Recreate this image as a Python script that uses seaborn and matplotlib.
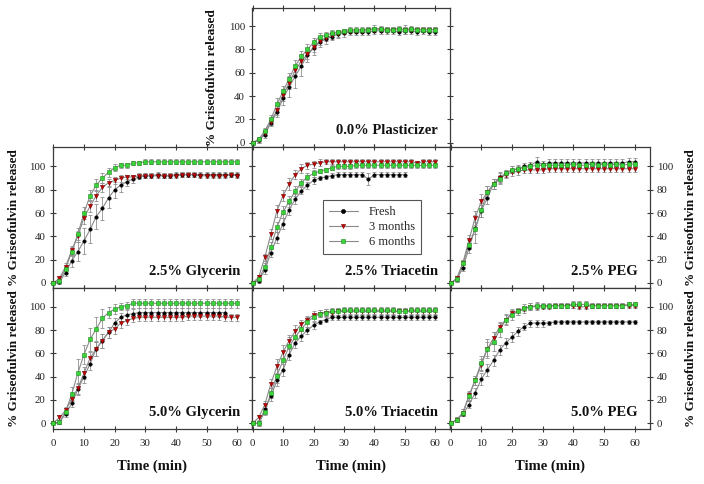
import numpy as np
import pandas as pd
import matplotlib
matplotlib.use("Agg")
import matplotlib.pyplot as plt
from matplotlib.lines import Line2D
import seaborn as sns

sns.set_style("ticks")
plt.rcParams['font.family'] = ['Liberation Serif', 'DejaVu Serif']

time_min = list(range(0, 61, 2))
series_names = ["Fresh", "3 months", "6 months"]
nan = float("nan")

# ---- 0.0% Plasticizer ----
plast0_fresh = [0, 2, 7, 17, 26, 38, 48, 57, 66, 75, 81, 86, 89, 91, 93, 94, 95, 95, 95, 95, 96, 96, 96, 96, 95, 96, 96, 95, 96, 95, 95]
plast0_3m = [0, 2, 8, 18, 28, 41, 51, 62, 70, 76, 82, 87, 90, 92, 94, 95, 96, 96, 96, 97, 97, 97, 97, 97, 97, 97, 97, 97, 97, 97, 97]
plast0_6m = [0, 3, 10, 20, 33, 44, 55, 66, 74, 80, 86, 91, 92, 94, 95, 96, 97, 97, 97, 97, 98, 98, 97, 97, 98, 97, 98, 97, 97, 97, 97]
plast0_fresh_err = [0, 2, 3, 3, 4, 6, 9, 10, 9, 6, 6, 4, 4, 3, 3, 3, 3, 3, 3, 3, 3, 3, 3, 3, 3, 3, 3, 3, 3, 3, 3]
plast0_3m_err = [0, 2, 2, 3, 4, 5, 5, 5, 5, 4, 4, 3, 3, 3, 3, 2, 2, 2, 2, 2, 2, 2, 2, 2, 2, 2, 2, 2, 2, 2, 2]
plast0_6m_err = [0, 2, 3, 4, 5, 5, 5, 5, 5, 5, 4, 3, 3, 3, 2, 2, 2, 2, 2, 2, 3, 2, 2, 2, 2, 4, 2, 2, 2, 2, 2]

# ---- 2.5% Glycerin ----
gly25_fresh = [0, 1, 9, 19, 27, 36, 46, 57, 64, 73, 80, 84, 87, 89, 91, 92, 92, 93, 92, 92, 93, 93, 93, 93, 93, 93, 93, 93, 93, 93, 93]
gly25_3m = [0, 4, 14, 28, 40, 56, 66, 75, 82, 86, 88, 90, 91, 91, 92, 92, 92, 92, 92, 92, 92, 93, 93, 93, 92, 92, 92, 92, 92, 93, 92]
gly25_6m = [0, 2, 12, 27, 42, 60, 75, 84, 90, 95, 99, 101, 101, 103, 103, 104, 104, 104, 104, 104, 104, 104, 104, 104, 104, 104, 104, 104, 104, 104, 104]
gly25_fresh_err = [0, 2, 3, 5, 8, 11, 12, 11, 10, 9, 7, 6, 4, 3, 2, 2, 2, 2, 2, 2, 2, 2, 2, 2, 2, 2, 2, 2, 2, 2, 2]
gly25_3m_err = [0, 2, 3, 4, 5, 5, 5, 5, 4, 3, 3, 3, 2, 2, 2, 2, 2, 2, 2, 2, 2, 2, 2, 2, 2, 2, 2, 2, 2, 2, 2]
gly25_6m_err = [0, 2, 3, 4, 5, 5, 5, 5, 4, 4, 3, 2, 2, 2, 2, 2, 2, 2, 2, 2, 2, 2, 2, 2, 2, 2, 2, 2, 2, 2, 2]

# ---- 2.5% Triacetin ----
tri25_fresh = [0, 2, 11, 26, 39, 51, 63, 72, 79, 84, 88, 90, 91, 92, 93, 93, 93, 93, 93, 89, 93, 93, 93, 93, 93, 93, nan, nan, nan, nan, nan]
tri25_3m = [0, 5, 22, 42, 62, 75, 85, 93, 98, 101, 102, 103, 104, 104, 104, 104, 104, 104, 104, 104, 104, 104, 104, 104, 104, 104, 104, 103, 104, 104, 104]
tri25_6m = [0, 3, 14, 31, 48, 61, 70, 79, 86, 91, 94, 96, 97, 99, 100, 100, 100, 101, 101, 101, 101, 101, 101, 101, 101, 101, 101, 101, 101, 101, 101]
tri25_fresh_err = [0, 2, 3, 4, 5, 5, 5, 4, 3, 3, 3, 2, 2, 2, 2, 2, 2, 2, 2, 5, 2, 2, 2, 2, 2, 2, nan, nan, nan, nan, nan]
tri25_3m_err = [0, 2, 3, 4, 5, 5, 5, 4, 4, 3, 3, 3, 2, 2, 2, 2, 2, 2, 2, 2, 2, 2, 2, 2, 2, 2, 2, 2, 2, 2, 2]
tri25_6m_err = [0, 2, 3, 4, 4, 5, 5, 4, 3, 3, 3, 2, 2, 2, 2, 2, 2, 2, 2, 2, 2, 2, 2, 2, 2, 2, 2, 2, 2, 2, 2]

# ---- 2.5% PEG ----
peg25_fresh = [0, 3, 13, 30, 47, 62, 73, 85, 91, 94, 97, 98, 100, 101, 104, 102, 103, 103, 103, 103, 103, 103, 103, 103, 103, 103, 103, 103, 103, 104, 104]
peg25_3m = [0, 4, 17, 37, 56, 70, 78, 85, 90, 93, 95, 96, 97, 97, 97, 97, 98, 98, 98, 98, 98, 98, 98, 98, 98, 98, 98, 98, 98, 98, 98]
peg25_6m = [0, 3, 17, 33, 46, 63, 78, 85, 89, 94, 97, 98, 99, 100, 101, 101, 101, 101, 101, 101, 102, 101, 101, 102, 101, 102, 101, 102, 101, 102, 102]
peg25_fresh_err = [0, 2, 3, 4, 5, 5, 5, 4, 4, 3, 3, 3, 3, 3, 4, 3, 3, 3, 3, 3, 3, 3, 3, 3, 3, 3, 3, 3, 3, 3, 3]
peg25_3m_err = [0, 2, 3, 4, 6, 6, 5, 4, 4, 3, 3, 3, 3, 3, 3, 3, 3, 3, 3, 3, 3, 3, 3, 3, 3, 3, 3, 3, 3, 3, 3]
peg25_6m_err = [0, 2, 3, 4, 12, 6, 5, 4, 4, 3, 3, 2, 2, 2, 2, 2, 2, 2, 2, 2, 2, 2, 2, 2, 2, 2, 2, 2, 2, 2, 2]

# ---- 5.0% Glycerin ----
gly50_fresh = [0, 1, 8, 17, 29, 40, 51, 64, 71, 78, 86, 91, 93, 94, 95, 95, 95, 95, 95, 95, 95, 95, 95, 95, 95, 95, 95, 95, 95, nan, nan]
gly50_3m = [0, 5, 11, 21, 30, 43, 56, 64, 71, 78, 81, 86, 88, 90, 91, 91, 91, 91, 91, 91, 91, 91, 92, 92, 92, 92, 92, 92, 91, 91, 91]
gly50_6m = [0, 1, 10, 25, 43, 59, 72, 81, 90, 95, 98, 100, 101, 103, 103, 103, 103, 103, 103, 103, 103, 103, 103, 103, 103, 103, 103, 103, 103, 103, 103]
gly50_fresh_err = [0, 2, 3, 3, 5, 5, 5, 6, 6, 5, 4, 4, 4, 4, 4, 4, 4, 4, 4, 4, 4, 4, 4, 4, 4, 4, 4, 4, 4, nan, nan]
gly50_3m_err = [0, 2, 3, 4, 5, 5, 5, 6, 6, 5, 4, 4, 4, 3, 3, 3, 3, 3, 3, 3, 3, 3, 3, 3, 3, 3, 3, 3, 3, 3, 3]
gly50_6m_err = [0, 2, 3, 6, 12, 8, 10, 10, 8, 5, 4, 3, 3, 4, 4, 4, 4, 4, 4, 4, 4, 4, 4, 4, 4, 4, 4, 4, 4, 4, 4]

# ---- 5.0% Triacetin ----
tri50_fresh = [0, 0, 12, 23, 37, 46, 59, 69, 75, 80, 84, 87, 89, 91, 91, 91, 91, 91, 91, 91, 91, 91, 91, 91, 91, 91, 91, 91, 91, 91, 91]
tri50_3m = [0, 5, 16, 34, 49, 61, 71, 79, 85, 89, 93, 94, 95, 95, 96, 96, 96, 96, 96, 96, 96, 96, 96, 96, 96, 96, 96, 96, 96, 96, 96]
tri50_6m = [0, 0, 10, 26, 41, 54, 66, 74, 81, 87, 91, 94, 95, 96, 96, 97, 97, 97, 97, 97, 97, 97, 97, 97, 96, 96, 97, 97, 97, 97, 97]
tri50_fresh_err = [0, 2, 3, 4, 5, 5, 5, 4, 4, 3, 3, 2, 2, 2, 2, 2, 2, 2, 2, 2, 2, 2, 2, 2, 2, 2, 2, 2, 2, 2, 2]
tri50_3m_err = [0, 2, 3, 4, 6, 6, 5, 5, 4, 3, 3, 3, 3, 3, 3, 3, 3, 3, 3, 3, 3, 3, 3, 3, 3, 3, 3, 3, 3, 3, 3]
tri50_6m_err = [0, 2, 3, 4, 6, 8, 8, 6, 5, 4, 3, 3, 3, 3, 3, 3, 3, 3, 3, 3, 3, 3, 3, 3, 3, 3, 3, 3, 3, 3, 3]

# ---- 5.0% PEG ----
peg50_fresh = [0, 3, 8, 16, 26, 38, 46, 54, 63, 69, 74, 79, 83, 86, 86, 86, 86, 87, 87, 87, 87, 87, 87, 87, 87, 87, 87, 87, 87, 87, 87]
peg50_3m = [0, 3, 9, 24, 37, 50, 64, 73, 83, 89, 95, 96, 98, 100, 100, 100, 100, 101, 101, 101, 101, 100, 100, 101, 101, 101, 101, 101, 101, 101, 101]
peg50_6m = [0, 3, 9, 23, 37, 52, 64, 70, 80, 89, 93, 96, 99, 100, 101, 101, 101, 101, 101, 101, 102, 102, 102, 101, 101, 101, 101, 101, 101, 102, 102]
peg50_fresh_err = [0, 2, 2, 3, 4, 5, 5, 5, 4, 4, 4, 4, 3, 3, 3, 3, 2, 2, 2, 2, 2, 2, 2, 2, 2, 2, 2, 2, 2, 2, 2]
peg50_3m_err = [0, 2, 3, 4, 4, 5, 6, 5, 4, 4, 3, 3, 3, 3, 3, 2, 2, 2, 2, 2, 2, 2, 2, 2, 2, 2, 2, 2, 2, 2, 2]
peg50_6m_err = [0, 2, 3, 4, 4, 6, 8, 8, 6, 5, 4, 3, 3, 3, 3, 2, 2, 2, 2, 2, 3, 3, 3, 2, 2, 2, 2, 2, 2, 2, 2]

panel_titles = ["0.0% Plasticizer", "2.5% Glycerin", "2.5% Triacetin", "2.5% PEG",
                "5.0% Glycerin", "5.0% Triacetin", "5.0% PEG"]
panel_data = [
    (plast0_fresh, plast0_3m, plast0_6m, plast0_fresh_err, plast0_3m_err, plast0_6m_err),
    (gly25_fresh, gly25_3m, gly25_6m, gly25_fresh_err, gly25_3m_err, gly25_6m_err),
    (tri25_fresh, tri25_3m, tri25_6m, tri25_fresh_err, tri25_3m_err, tri25_6m_err),
    (peg25_fresh, peg25_3m, peg25_6m, peg25_fresh_err, peg25_3m_err, peg25_6m_err),
    (gly50_fresh, gly50_3m, gly50_6m, gly50_fresh_err, gly50_3m_err, gly50_6m_err),
    (tri50_fresh, tri50_3m, tri50_6m, tri50_fresh_err, tri50_3m_err, tri50_6m_err),
    (peg50_fresh, peg50_3m, peg50_6m, peg50_fresh_err, peg50_3m_err, peg50_6m_err),
]
x_ticks = [0, 10, 20, 30, 40, 50, 60]
y_ticks = [0, 20, 40, 60, 80, 100]
y_label = "% Griseofulvin released"
x_label = "Time (min)"

# styles
marker_styles = {"Fresh": "o", "3 months": "v", "6 months": "s"}
face_colors = {"Fresh": "#000000", "3 months": "#c40000", "6 months": "#3ad43a"}
edge_colors = {"Fresh": "#000000", "3 months": "#7a0000", "6 months": "#1e8a1e"}
marker_sizes = {"Fresh": 6, "3 months": 9, "6 months": 7}
line_gray = "#8a8a8a"
err_gray = "#8f8f8f"
spine_col = "#3a3a3a"

W, H = 704, 484
fig = plt.figure(figsize=(W / 100, H / 100), dpi=100)

cols = [(52.7, 252.0), (252.0, 450.0), (450.0, 650.0)]
rows = {"top": (8.0, 147.0), "mid": (147.0, 288.0), "bot": (288.0, 429.0)}
row_ylim = {"top": (-3.7, 115.6), "mid": (-4.3, 116.7), "bot": (-4.9, 116.1)}

layout = [("top", 1), ("mid", 0), ("mid", 1), ("mid", 2), ("bot", 0), ("bot", 1), ("bot", 2)]

axes = []
for idx, (row, col) in enumerate(layout):
    x0, x1 = cols[col]
    y0, y1 = rows[row]
    ax = fig.add_axes([x0 / W, 1 - y1 / H, (x1 - x0) / W, (y1 - y0) / H])
    axes.append(ax)
    fresh, m3, m6, efresh, em3, em6 = panel_data[idx]

    df = pd.DataFrame({
        "t": time_min * 3,
        "v": fresh + m3 + m6,
        "e": efresh + em3 + em6,
        "series": sum([[s] * len(time_min) for s in series_names], []),
    }).dropna()

    # error bars
    for s in series_names:
        d = df[df.series == s]
        ax.errorbar(d.t, d.v, yerr=d.e, fmt="none", ecolor=err_gray, elinewidth=0.6,
                    capsize=1.6, capthick=0.6, zorder=2, clip_on=False)
    # connecting lines
    sns.lineplot(data=df, x="t", y="v", hue="series", units="series", estimator=None,
                 palette={s: line_gray for s in series_names}, linewidth=0.8,
                 legend=False, ax=ax, zorder=3, sort=False)
    # markers
    for s in series_names:
        d = df[df.series == s]
        sns.scatterplot(x=d.t, y=d.v, marker=marker_styles[s], color=face_colors[s],
                        edgecolor=edge_colors[s], linewidth=0.4, s=marker_sizes[s],
                        ax=ax, zorder=4, clip_on=False, legend=False)

    ax.set_xlim(-0.2, 64.8 if col < 2 else 65.0)
    ax.set_ylim(*row_ylim[row])
    ax.set_xticks(x_ticks)
    ax.set_yticks(y_ticks)
    ax.set_xlabel("")
    ax.set_ylabel("")
    for sp in ax.spines.values():
        sp.set_visible(True)
        sp.set_color(spine_col)
        sp.set_linewidth(0.9)
    ax.tick_params(axis="both", which="major", direction="inout", length=5, width=0.8,
                   color=spine_col, labelsize=7.8, pad=2.5, labelcolor="#222222",
                   top=True, right=True)
    ax.tick_params(axis="x", top=True, labeltop=False, labelbottom=(row == "bot"), pad=5)
    if col == 2:
        ax.tick_params(axis="y", labelleft=False, labelright=True)
    elif (row == "top") or col == 0:
        ax.tick_params(axis="y", labelleft=True, labelright=False)
    else:
        ax.tick_params(axis="y", labelleft=False, labelright=False)

    ax.text(0.94, 0.095, panel_titles[idx], transform=ax.transAxes, ha="right",
            va="baseline", fontsize=10.5, fontweight="bold", color="#111111", zorder=6)

    # y labels
    yc = 1 - ((y0 + y1) / 2) / H
    if row == "top":
        fig.text(212 / W, yc, y_label, rotation=90, ha="center", va="center",
                 fontsize=9.5, fontweight="bold", color="#111111")
    elif col == 0:
        fig.text(14 / W, yc, y_label, rotation=90, ha="center", va="center",
                 fontsize=9.5, fontweight="bold", color="#111111")
    elif col == 2:
        fig.text(691 / W, yc, y_label, rotation=90, ha="center", va="center",
                 fontsize=9.5, fontweight="bold", color="#111111")
    if row == "bot":
        fig.text(((x0 + x1) / 2) / W, 1 - 466 / H, x_label, ha="center", va="center",
                 fontsize=10.5, fontweight="bold", color="#111111")

# legend in 2.5% Triacetin panel
handles = [Line2D([0], [0], color=line_gray, lw=0.8, marker=marker_styles[s],
                  markerfacecolor=face_colors[s], markeredgecolor=edge_colors[s],
                  markeredgewidth=0.4, markersize=3.0) for s in series_names]
leg = axes[2].legend(handles, series_names, loc="upper left", bbox_to_anchor=(0.328, 0.665),
                     frameon=True, fancybox=False, framealpha=1, edgecolor="#555555",
                     fontsize=9, handlelength=2.3, handletextpad=0.9, borderpad=0.45,
                     labelspacing=0.25)
leg.get_frame().set_linewidth(0.8)
leg.set_zorder(10)

fig.savefig("out.png", dpi=100)
